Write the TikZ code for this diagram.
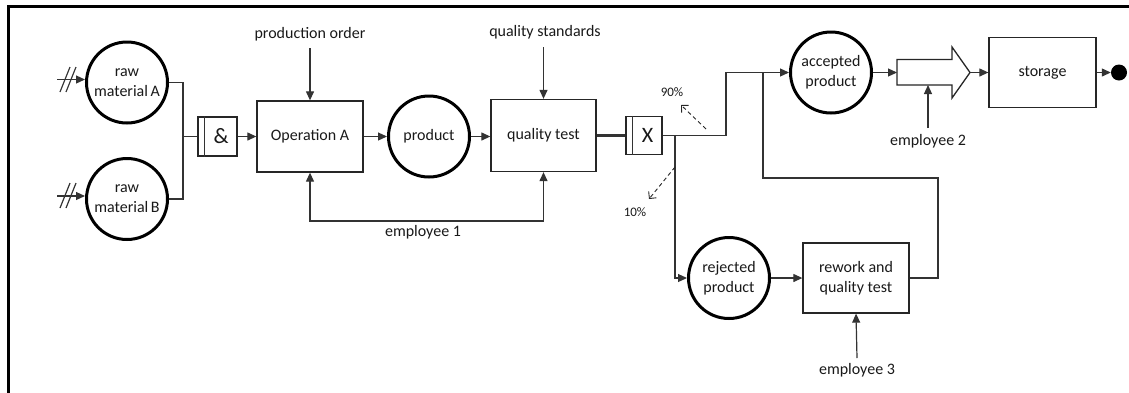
\documentclass[tikz,border=0pt]{standalone}
\usepackage{fontspec}
\setmainfont{Carlito}
\usetikzlibrary{arrows.meta,calc}
\tikzset{
  every node/.style={font=\fontsize{16}{20}\selectfont, text=black!90},
  circ/.style={circle, draw=black, line width=3pt, minimum size=81pt, inner sep=0pt, align=center},
  boxn/.style={rectangle, draw=black!85, line width=1.3pt, inner sep=0pt, align=center},
  gate/.style={rectangle, draw=black!85, line width=1.3pt, minimum width=36pt, minimum height=38pt, inner sep=0pt, font=\fontsize{22}{24}\selectfont},
  conn/.style={draw=black!80, line width=1.2pt},
  arr/.style={conn, -{Triangle[length=9pt,width=8pt]}},
  dasharr/.style={draw=black!85, line width=0.9pt, dashed, dash pattern=on 4pt off 3pt, -{Straight Barb[length=5pt,width=10pt]}},
  pct/.style={font=\fontsize{13}{15}\selectfont},
  lbl/.style={font=\fontsize{16}{20}\selectfont}
}
\begin{document}
\begin{tikzpicture}[x=1pt,y=-1pt]
\useasboundingbox (0,0) rectangle (1129,392);
% frame
\draw[line width=3pt] (8.5,393) -- (8.5,6.5) -- (1130,6.5);

% raw materials
\node[circ] (rawA) at (127,82.5) {raw\\material\,A};
\node[circ] (rawB) at (127,199) {raw\\material\,B};
\coordinate (inA) at (57,79.5);
\coordinate (inB) at (57,196);
\draw[arr] (inA) -- (rawA.west |- inA);
\draw[arr] (inB) -- (rawB.west |- inB);
\draw[conn] (60,92) -- (70,67) (66,92) -- (76,67);
\draw[conn] (60,208) -- (70,183) (66,208) -- (76,183);

% and gate
\node[gate, minimum width=39pt, minimum height=39pt] (andg) at (217.5,136.5) {\hspace*{7pt}\&};
\draw[conn, line width=1pt] ($(andg.north west)+(7,0)$) -- ($(andg.south west)+(7,0)$);
\coordinate (j1) at (183,136.5);
\draw[conn] (rawA.east) -| (j1) |- (rawB.east);
\draw[conn] (j1) -- (andg.west);

% operation A
\node[boxn, minimum width=106pt, minimum height=71pt] (opA) at (310,136.5) {Operation A};
\draw[arr] (andg.east) -- (opA.west);
\node[lbl] (po) at (310,34) {production order};
\coordinate (poA) at (310,48);
\draw[arr] (poA) -- (opA.north);

% product
\node[circ] (prod) at (429,136.5) {product};
\draw[arr] (opA.east) -- (prod.west);

% quality test
\node[boxn, minimum width=105pt, minimum height=72pt] (qt) at (543.5,135.5) {quality test};
\draw[arr] (prod.east) -- (prod.east -| qt.west);
\node[lbl] (qs) at (545,32) {quality standards};
\coordinate (qsA) at (543.5,47);
\draw[arr] (qsA) -- (qt.north);

% employee 1
\coordinate (e1) at (423,221);
\node[lbl] (e1t) at (423,232) {employee 1};
\draw[arr] (e1) -| (opA.south);
\draw[arr] (e1) -| (qt.south);

% X gate
\node[gate] (xg) at (644,135.5) {\hspace*{7pt}X};
\draw[conn, line width=1pt] ($(xg.north west)+(7,0)$) -- ($(xg.south west)+(7,0)$);
\draw[conn, line width=2.5pt] (qt.east) -- (xg.west);
\coordinate (j2) at (675,135.5);
\draw[conn] (xg.east) -- (j2);

% accepted product
\node[circ] (acc) at (831,72.5) {accepted\\product};
\coordinate (j3) at (726,72.5);
\draw[arr] (j2) -| (j3) -- (acc.west);

% rejected product
\node[circ] (rej) at (729,278) {rejected\\product};
\draw[arr] (j2) |- (rej.west);

% percentages
\coordinate (p90a) at (706,129);
\coordinate (p90b) at (681,105);
\draw[dasharr] (p90a) -- (p90b);
\node[pct] (p90) at (672,92) {90\%};
\coordinate (p10a) at (675,167);
\coordinate (p10b) at (649,199);
\draw[dasharr] (p10a) -- (p10b);
\node[pct] (p10) at (635,212) {10\%};

% rework
\node[boxn, minimum width=106pt, minimum height=70pt] (rew) at (856,278) {rework and\\quality test};
\draw[arr] (rej.east) -- (rew.west);
\coordinate (l1) at (938,178);
\coordinate (l2) at (763,178);
\coordinate (j4) at (763,72.5);
\draw[conn] (rew.east) -| (l1) -- (l2) -- (j4);
\node[lbl] (e3t) at (857,370) {employee 3};
\coordinate (e3) at (857,358);
\draw[arr] (e3) -- (rew.south);

% transport block arrow
\draw[draw=black!85, line width=1.3pt, fill=white] (897,59.5) -- (952,59.5) -- (952,47) -- (970,72.5) -- (952,98) -- (952,85) -- (897,85) -- cycle;
\coordinate (barL) at (897,72.5);
\coordinate (barT) at (970,72.5);
\coordinate (barB) at (928,85);
\draw[arr] (acc.east) -- (barL);
\node[lbl] (e2t) at (928,141) {employee 2};
\coordinate (e2) at (928,128);
\draw[arr] (e2) -- (barB);

% storage
\node[boxn, minimum width=107pt, minimum height=70pt] (stor) at (1042.5,72.5) {storage};
\draw[arr] (barT) -- (stor.west);
\node[circle, fill=black, minimum size=16pt, inner sep=0pt] (endd) at (1119,72.5) {};
\draw[arr] (stor.east) -- (endd.west);
\end{tikzpicture}
\end{document}
